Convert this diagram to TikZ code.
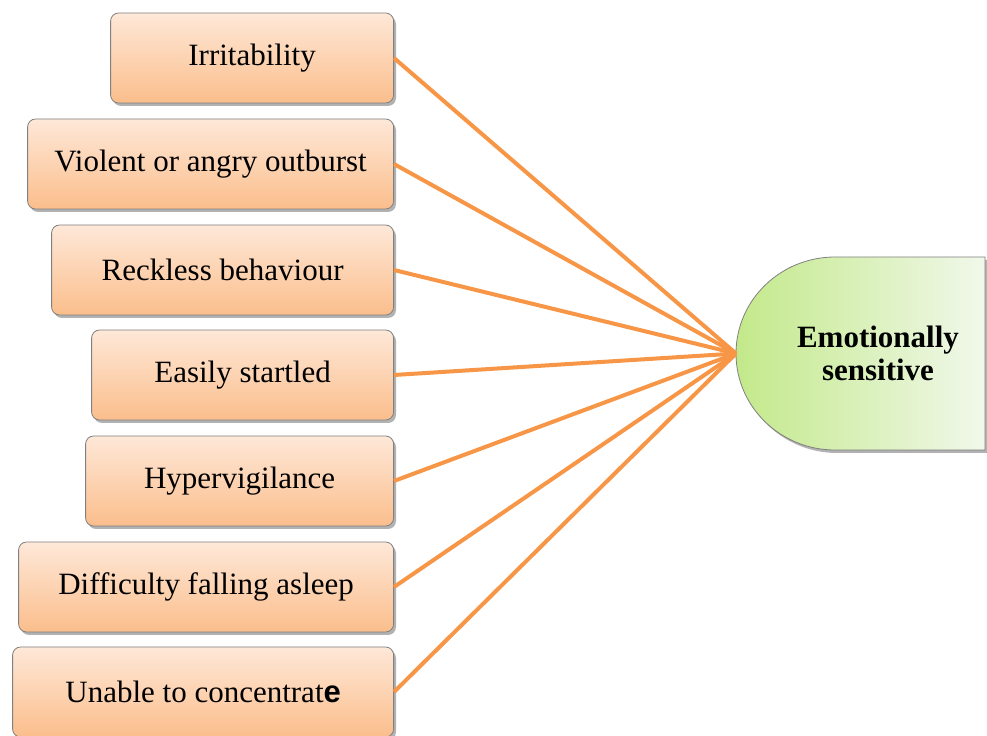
\documentclass[tikz,border=0pt]{standalone}
\usepackage{fontspec}
\setmainfont{Liberation Serif}
\setsansfont{Liberation Sans}
\usetikzlibrary{shadows}
\usetikzlibrary{positioning}
\definecolor{linkorange}{HTML}{F79646}
\definecolor{peachtop}{HTML}{FEE8D8}
\definecolor{peachbottom}{HTML}{FBBE8C}
\definecolor{boxgray}{HTML}{808080}
\definecolor{greenleft}{HTML}{C3E98A}
\definecolor{greenright}{HTML}{F1F8EB}
\tikzset{
    symptom box/.style={
        draw=boxgray,
        rounded corners=4pt,
        top color=peachtop,
        bottom color=peachbottom,
        drop shadow={shadow xshift=1.2pt, shadow yshift=-1.5pt, fill=black, opacity=0.3},
        minimum height=45pt,
        inner sep=0pt,
        anchor=east,
        font=\fontsize{15.5}{18}\selectfont,
    },
    symptom link/.style={
        draw=linkorange,
        line width=2pt,
    },
    emotion shape/.style={
        draw=boxgray,
        left color=greenleft,
        right color=greenright,
        drop shadow={shadow xshift=1.2pt, shadow yshift=-1.5pt, fill=black, opacity=0.3},
    },
}

\begin{document}
\begin{tikzpicture}[x=0.5pt, y=0.5pt]
    \useasboundingbox (0,0) rectangle (987,735);

    % the box on the right
    \draw[emotion shape] (985,478) -- (835,478)
        arc[start angle=90, end angle=270, x radius=99, y radius=96.5]
        -- (985,285) -- cycle;
    \node[font=\fontsize{15.5}{16.5}\selectfont\bfseries, align=center] (emo) at (878,382) {Emotionally\\sensitive};
    \coordinate (tip) at (736,381.5);

    \foreach \y/\w/\name/\txt in {
        677/283/irr/Irritability,
        571/366/vio/Violent or angry outburst,
        465/342/rec/Reckless behaviour,
        360/302/eas/Easily startled,
        254/308/hyp/Hypervigilance,
        148/375/dif/Difficulty falling asleep,
        43/381/una/{Unable to concentrat{\sffamily\bfseries e}}}
    {
        \node[symptom box, minimum width=\w*0.5pt] (\name) at (394,\y) {\txt};
    }

    \foreach \name in {irr,vio,rec,eas,hyp,dif,una}
    {
        \draw[symptom link] (\name.east) -- (tip);
    }

\end{tikzpicture}
\end{document}
